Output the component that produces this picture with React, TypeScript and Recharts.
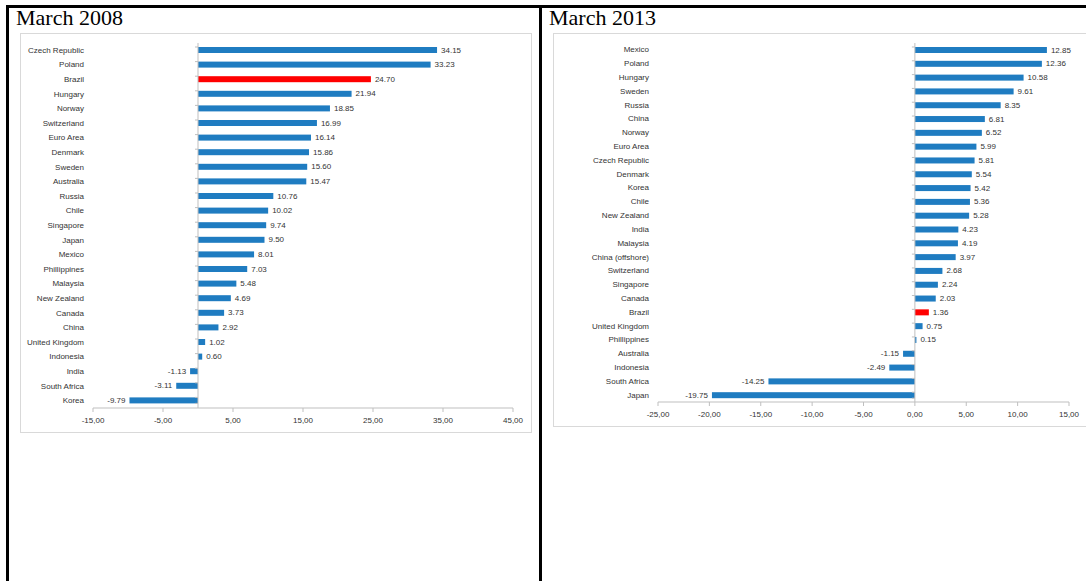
import React from 'react';
import { BarChart, Bar, XAxis, YAxis, ReferenceLine, LabelList } from 'recharts';

// March 2008
const countries2008 = [
    'Czech Republic', 'Poland', 'Brazil', 'Hungary', 'Norway', 'Switzerland', 'Euro Area', 'Denmark',
    'Sweden', 'Australia', 'Russia', 'Chile', 'Singapore', 'Japan', 'Mexico', 'Phillippines',
    'Malaysia', 'New Zealand', 'Canada', 'China', 'United Kingdom', 'Indonesia', 'India',
    'South Africa', 'Korea',
];
const values2008 = [
    34.15, 33.23, 24.7, 21.94, 18.85, 16.99, 16.14, 15.86, 15.6, 15.47, 10.76, 10.02, 9.74, 9.5,
    8.01, 7.03, 5.48, 4.69, 3.73, 2.92, 1.02, 0.6, -1.13, -3.11, -9.79,
];
const ticks2008 = [-15, -5, 5, 15, 25, 35, 45];

// March 2013
const countries2013 = [
    'Mexico', 'Poland', 'Hungary', 'Sweden', 'Russia', 'China', 'Norway', 'Euro Area',
    'Czech Republic', 'Denmark', 'Korea', 'Chile', 'New Zealand', 'India', 'Malaysia',
    'China (offshore)', 'Switzerland', 'Singapore', 'Canada', 'Brazil', 'United Kingdom',
    'Phillippines', 'Australia', 'Indonesia', 'South Africa', 'Japan',
];
const values2013 = [
    12.85, 12.36, 10.58, 9.61, 8.35, 6.81, 6.52, 5.99, 5.81, 5.54, 5.42, 5.36, 5.28, 4.23, 4.19,
    3.97, 2.68, 2.24, 2.03, 1.36, 0.75, 0.15, -1.15, -2.49, -14.25, -19.75,
];
const ticks2013 = [-25, -20, -15, -10, -5, 0, 5, 10, 15];

const BLUE = '#1f7cc1';
const RED = '#ff0000';
const GRID = '#bfbfbf';
const TEXT = '#333333';
const FONT = '"Liberation Sans", Arial, sans-serif';

const fmtTick = (v: number) => v.toFixed(2).replace('.', ',');

const BarShape = (props: any) => {
    const { x, y, width, height, payload, index, background, count } = props;
    const left = Math.min(x, x + width);
    const w = Math.abs(width);
    const fill = payload.name === 'Brazil' ? RED : BLUE;
    const bg = background || { y: y - 4, height: height + 8 };
    return (
        <g>
            <rect x={left} y={y} width={w} height={height} fill={fill} />
            <line x1={x - 3} x2={x} y1={bg.y} y2={bg.y} stroke={GRID} />
            {index === count - 1 && (
                <line x1={x - 3} x2={x} y1={bg.y + bg.height} y2={bg.y + bg.height} stroke={GRID} />
            )}
        </g>
    );
};

const ValueLabel = (props: any) => {
    const vb = props.viewBox || props;
    const { x, y, width, height } = vb;
    const value = Number(props.value);
    const end = value >= 0 ? Math.max(x, x + width) : Math.min(x, x + width);
    return (
        <text
            x={value >= 0 ? end + 4 : end - 4}
            y={y + height / 2}
            textAnchor={value >= 0 ? 'start' : 'end'}
            dominantBaseline="central"
            fontSize={8}
            fontFamily={FONT}
            fill={TEXT}
        >
            {value.toFixed(2)}
        </text>
    );
};

const NameTick = (props: any) => {
    const { x, y, payload } = props;
    return (
        <text x={x} y={y} textAnchor="end" dominantBaseline="central" fontSize={8} fontFamily={FONT} fill={TEXT}>
            {payload.value}
        </text>
    );
};

interface PanelProps {
    names: string[];
    values: number[];
    ticks: number[];
    width: number;
    height: number;
    yWidth: number;
    right: number;
}

const Panel: React.FC<PanelProps> = ({ names, values, ticks, width, height, yWidth, right }) => {
    const data = names.map((name, i) => ({ name, value: values[i] }));
    return (
        <BarChart
            layout="vertical"
            width={width}
            height={height}
            data={data}
            margin={{ top: 10, right, bottom: 5, left: 0 }}
            style={{ overflow: 'visible' }}
        >
            <XAxis
                type="number"
                domain={[ticks[0], ticks[ticks.length - 1]]}
                ticks={ticks}
                tickFormatter={fmtTick}
                axisLine={{ stroke: GRID }}
                tickLine={{ stroke: GRID }}
                tickSize={4}
                tickMargin={5}
                height={20}
                interval={0}
                tick={{ fontSize: 8, fontFamily: FONT, fill: TEXT }}
            />
            <YAxis
                type="category"
                dataKey="name"
                width={yWidth}
                axisLine={false}
                tickLine={false}
                tickSize={0}
                tickMargin={9}
                interval={0}
                tick={<NameTick />}
            />
            <ReferenceLine x={0} stroke={GRID} />
            <Bar
                dataKey="value"
                barSize={6}
                isAnimationActive={false}
                shape={(p: any) => <BarShape {...p} count={data.length} />}
            >
                <LabelList dataKey="value" content={ValueLabel} />
            </Bar>
        </BarChart>
    );
};

const abs = (left: number, top: number): React.CSSProperties => ({ position: 'absolute', left, top });

export default function App() {
    return (
        <div
            style={{
                position: 'absolute',
                left: 0,
                top: 0,
                width: 1086,
                height: 581,
                overflow: 'hidden',
                background: '#fff',
            }}
        >
            {/* table rules */}
            <div style={{ ...abs(6, 5), width: 1090, height: 3, background: '#000' }} />
            <div style={{ ...abs(6, 5), width: 3, height: 590, background: '#000' }} />
            <div style={{ ...abs(539, 5), width: 3, height: 590, background: '#000' }} />

            <div style={{ ...abs(16, 5), fontFamily: '"Liberation Serif", serif', fontSize: 22 }}>March 2008</div>
            <div style={{ ...abs(549, 5), fontFamily: '"Liberation Serif", serif', fontSize: 22 }}>March 2013</div>

            <div style={{ ...abs(20, 33), width: 510, height: 398, border: '1px solid #d9d9d9' }} />
            <div style={{ ...abs(553, 33), width: 560, height: 392, border: '1px solid #d9d9d9' }} />

            <div style={abs(20, 33)}>
                <Panel names={countries2008} values={values2008} ticks={ticks2008} width={512} height={400} yWidth={73} right={19} />
            </div>
            <div style={abs(553, 33)}>
                <Panel names={countries2013} values={values2013} ticks={ticks2013} width={533} height={394} yWidth={105} right={17} />
            </div>
        </div>
    );
}
